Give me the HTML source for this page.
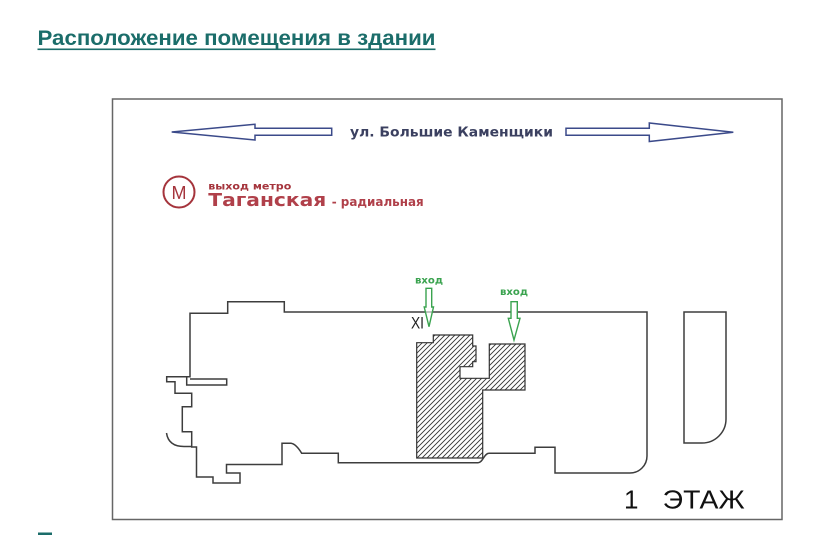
<!DOCTYPE html>
<html>
<head>
<meta charset="utf-8">
<style>
html,body{margin:0;padding:0;background:#fff;}
svg{display:block;}
</style>
</head>
<body>
<svg width="820" height="535" viewBox="0 0 820 535" xmlns="http://www.w3.org/2000/svg">
  <defs>
    <pattern id="hatch" patternUnits="userSpaceOnUse" width="5" height="5">
      <path d="M0,5 L5,0 M-1,1 L1,-1 M4,6 L6,4" stroke="#333" stroke-width="0.9"/>
    </pattern>
  </defs>
  <rect width="820" height="535" fill="#fff"/>

  <!-- Title -->
  <text x="37.5" y="45" font-family="Liberation Sans, sans-serif" font-weight="bold" font-size="21.5" fill="#1b6d6a" textLength="398" lengthAdjust="spacingAndGlyphs">Расположение помещения в здании</text>
  <rect x="37.5" y="48.5" width="398" height="1.6" fill="#1b6d6a"/>

  <!-- Frame -->
  <rect x="112.5" y="99" width="669.5" height="420.5" fill="none" stroke="#666" stroke-width="1.5"/>

  <!-- Street arrows -->
  <polygon points="171.7,132 255,124.3 255,128.3 331.7,128.3 331.7,135.3 255,135.3 255,140 " fill="#fff" stroke="#3b4a8a" stroke-width="1.5" stroke-linejoin="miter"/>
  <polygon points="566,128.3 649.3,128.3 649.3,123 733.3,132.3 649.3,141.5 649.3,135.3 566,135.3" fill="#fff" stroke="#3b4a8a" stroke-width="1.5"/>
  <text x="350" y="136.5" font-family="DejaVu Sans, sans-serif" font-weight="bold" font-size="13.5" fill="#3b4060" textLength="203" lengthAdjust="spacingAndGlyphs">ул. Большие Каменщики</text>

  <!-- Metro -->
  <circle cx="179" cy="192" r="15.5" fill="none" stroke="#a5343c" stroke-width="2"/>
  <text x="179" y="199" text-anchor="middle" font-family="Liberation Sans, sans-serif" font-size="18" fill="#a5343c">M</text>
  <text x="208.3" y="189.3" font-family="DejaVu Sans, sans-serif" font-weight="bold" font-size="9.5" fill="#a5343c" textLength="83" lengthAdjust="spacingAndGlyphs">выход метро</text>
  <text x="208.3" y="206" font-family="DejaVu Sans, sans-serif" font-weight="bold" font-size="17.5" fill="#b0404a" textLength="118" lengthAdjust="spacingAndGlyphs">Таганская</text>
  <text x="331.7" y="206" font-family="DejaVu Sans, sans-serif" font-weight="bold" font-size="12.5" fill="#b0404a" textLength="92" lengthAdjust="spacingAndGlyphs">- радиальная</text>

  <!-- Hatched premises -->
  <polygon points="416.7,342.7 433.3,342.7 433.3,335 472.7,335 472.7,346 476,346 476,361.7 472.7,361.7 472.7,366.7 460,366.7 460,378.3 489.3,378.3 489.3,344 525,344 525,390 482.7,390 482.7,458 416.7,458" fill="url(#hatch)" stroke="#333" stroke-width="1.2"/>

  <!-- Building outline -->
  <g fill="none" stroke="#3d3d3d" stroke-width="1.5" stroke-linejoin="miter">
    <path d="M186.7,376.7 H190 V313.3 H227.7 V301.7 H284.3 V312 H647 V456 A17,17 0 0 1 630,473 H555 V447.3 H535 V453.3 H489 C484,453.3 483,462.7 478,462.7 H338.3 V453.3 H301.7 Q296,444 291,443.3 H282 V464.5 H226.5 V473 H240 V483 H213 V477 H196.5 V447 H191.7 V431.7 H182.3 V406.7 H191.7 V393.3 H175 V381.7 H166.7 V376.7 H186.7 V385 H226.7 V379 H190"/>
    <path d="M166.5,433 Q168.5,446.5 184,446.5 H191.7"/>
    <!-- separate D shape -->
    <path d="M684,312 H726 V419 A24,24 0 0 1 702,443 H684 Z"/>
  </g>

  <!-- Entrances -->
  <text x="415" y="283.3" font-family="DejaVu Sans, sans-serif" font-weight="bold" font-size="9.5" fill="#3aa34f" textLength="28" lengthAdjust="spacingAndGlyphs">вход</text>
  <text x="500" y="295" font-family="DejaVu Sans, sans-serif" font-weight="bold" font-size="9.5" fill="#3aa34f" textLength="28" lengthAdjust="spacingAndGlyphs">вход</text>
  <text x="411" y="328.5" font-family="Liberation Sans, sans-serif" font-size="17" fill="#222" textLength="13" lengthAdjust="spacingAndGlyphs">XI</text>
  <polygon points="426,288.3 431.7,288.3 431.7,307 433.5,307 429,326.7 424.2,307 426,307" fill="#fff" fill-opacity="0.6" stroke="#3aa34f" stroke-width="1.4"/>
  <polygon points="511,301.7 517.3,301.7 517.3,318.3 520,318.3 514,340 508.3,318.3 511,318.3" fill="#fff" stroke="#3aa34f" stroke-width="1.4"/>

  <!-- Floor label -->
  <text x="624" y="508.5" font-family="Liberation Sans, sans-serif" font-size="26" fill="#111">1</text>
  <text x="662.7" y="508.5" font-family="Liberation Sans, sans-serif" font-size="26" fill="#111" textLength="82" lengthAdjust="spacingAndGlyphs">ЭТАЖ</text>

  <!-- partial next heading -->
  <rect x="38" y="532.5" width="14" height="2.5" fill="#1b6d6a"/>
</svg>
</body>
</html>
